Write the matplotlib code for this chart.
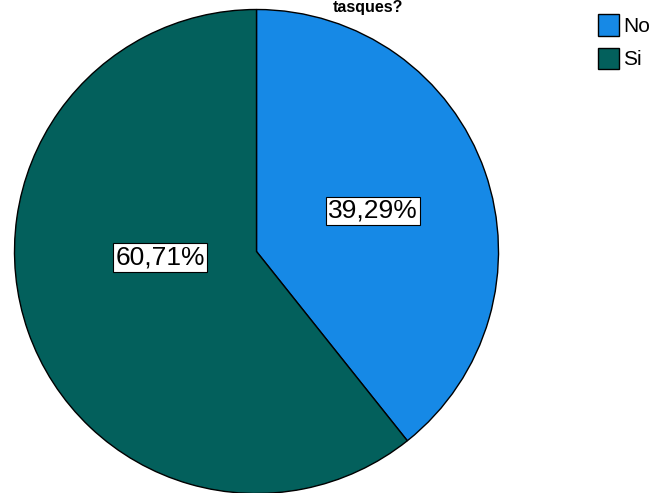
import numpy as np
import matplotlib.pyplot as plt

labels = ['No', 'Si']
values = [39.29, 60.71]
colors = ['#1689e6', '#03605c']

W, H = 662, 493
fig = plt.figure(figsize=(W / 100, H / 100), dpi=100)
plt.rcParams['font.family'] = ['Liberation Sans', 'DejaVu Sans']

# pie placement in pixels: center and radius
cx, cy, r = 256.5, 251.5, 242
ax = fig.add_axes([(cx - r) / W, (H - cy - r) / H, 2 * r / W, 2 * r / H])

wedges, texts, autotexts = ax.pie(
    values, colors=colors, startangle=90, counterclock=False,
    wedgeprops=dict(edgecolor='black', linewidth=1.0),
    autopct=lambda p: f'{p:.2f}%'.replace('.', ','),
    pctdistance=0.51, radius=1)
ax.set_xlim(-1, 1)
ax.set_ylim(-1, 1)
ax.set_aspect('equal')

for t in autotexts:
    t.set_fontsize(19)
    t.set_color('black')
    t.set_bbox(dict(facecolor='white', edgecolor='black', linewidth=0.8, pad=1.5))

# SPSS puts the larger label nearer the left edge
ang = np.deg2rad(183.5)
autotexts[1].set_position((0.40 * np.cos(ang), 0.40 * np.sin(ang)))

fig.text(368 / W, 1 - 12 / H, 'tasques?', ha='center', va='baseline',
         fontsize=11.5, fontweight='bold')

fig.legend(wedges, labels, loc='upper left', bbox_to_anchor=(588 / W, 1 - 4 / H),
           frameon=False, fontsize=15, handlelength=1.0, handleheight=1.2,
           handletextpad=0.2, labelspacing=0.55, borderpad=0)

fig.savefig('out.png', dpi=100)
